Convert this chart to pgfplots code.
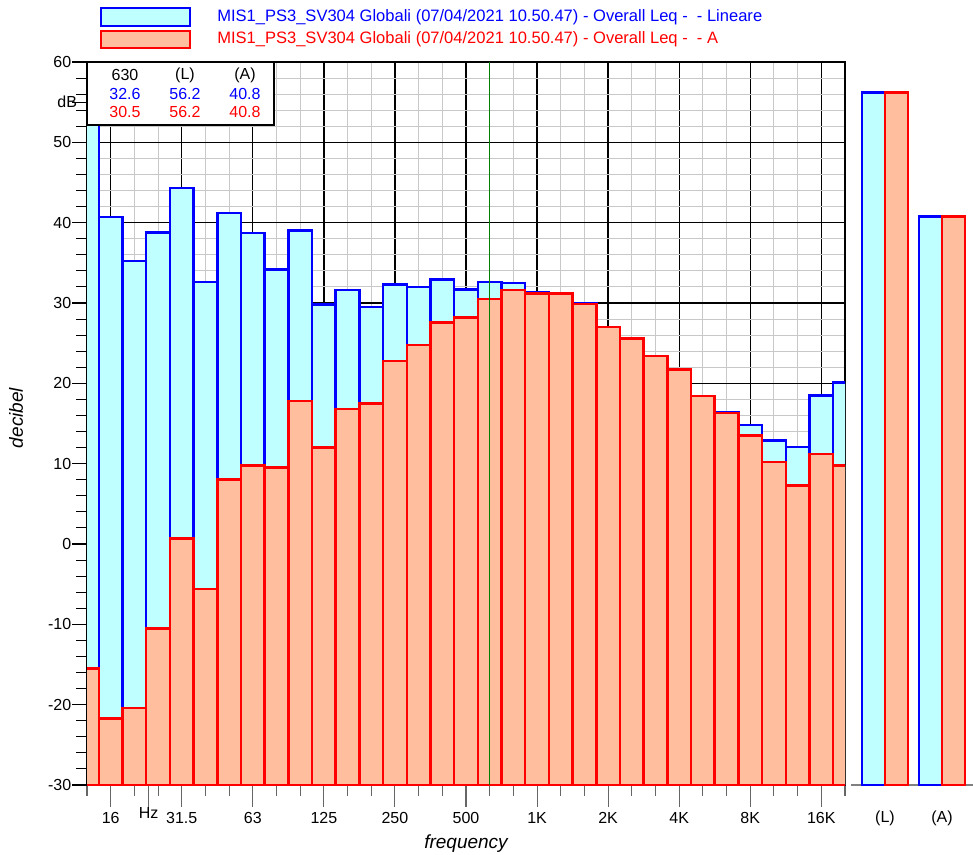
\documentclass[border=0pt]{standalone}
\usepackage{fontspec}
\setmainfont{Liberation Sans}
\usepackage{pgfplots}
\usepackage{pgfplotstable}
\pgfplotsset{compat=1.18}
\definecolor{cyanfill}{RGB}{191,255,255}
\definecolor{salmon}{RGB}{255,191,159}
\definecolor{bblue}{RGB}{0,0,255}
\definecolor{rred}{RGB}{255,0,0}
\definecolor{mgrid}{RGB}{200,200,200}

% third-octave bands: 0=12.5 Hz, 1=16 Hz, ..., 32=20 kHz
\pgfplotstableread{
idx lin aw
0  56.0 -15.5
1  40.7 -21.7
2  35.2 -20.4
3  38.8 -10.5
4  44.3 0.7
5  32.6 -5.6
6  41.2 8.0
7  38.7 9.8
8  34.2 9.5
9  39.0 17.8
10 29.8 12.0
11 31.6 16.8
12 29.5 17.5
13 32.3 22.8
14 32.0 24.8
15 32.9 27.6
16 31.7 28.2
17 32.6 30.5
18 32.5 31.6
19 31.3 31.2
20 31.2 31.2
21 30.0 29.9
22 27.0 27.0
23 25.6 25.6
24 23.4 23.4
25 21.7 21.7
26 18.4 18.4
27 16.4 16.3
28 14.8 13.5
29 12.9 10.2
30 12.1 7.3
31 18.5 11.2
32 20.1 9.8
}\spectrum

\begin{document}
\begin{tikzpicture}
\path[use as bounding box] (0pt,0pt) rectangle (729.75pt,640.5pt);
\begin{axis}[
  at={(65.25pt,51.75pt)}, anchor=south west,
  scale only axis, width=568.5pt, height=542.25pt,
  xmin=0, xmax=32, ymin=0, ymax=90,
  y filter/.expression={y+30},
  xtick={1,4,...,31},
  xticklabels={16,31.5,63,125,250,500,1K,2K,4K,8K,16K},
  minor xtick={0,...,32},
  ytick={0,10,...,90},
  yticklabels={-30,-20,-10,0,10,20,30,40,50,60},
  minor ytick={0,2,...,90},
  extra x ticks={2.6}, extra x tick labels={Hz},
  extra x tick style={grid=none, major tick length=0pt},
  extra y ticks={85}, extra y tick labels={dB},
  extra y tick style={grid=none, major tick length=0pt},
  grid=both,
  major grid style={black, line width=1pt},
  minor grid style={mgrid, line width=0.8pt},
  tick pos=left, tick align=outside,
  xtick style={/pgfplots/major tick length=16.5pt, black!60, line width=0.8pt},
  minor x tick style={/pgfplots/minor tick length=8pt, black!60, line width=0.8pt},
  ytick style={/pgfplots/major tick length=11pt, black, line width=0.8pt},
  minor y tick style={/pgfplots/minor tick length=8pt, black, line width=0.8pt},
  axis line style={black, line width=0.8pt},
  tick label style={font=\fontsize{12}{14}\selectfont},
  xticklabel style={yshift=-13pt},
  yticklabel style={xshift=-4pt},
]
\addplot[ybar, bar width=1, bar shift=0pt, draw=bblue, fill=cyanfill, line width=1.9pt]
  table[x=idx, y=lin]{\spectrum};
\addplot[ybar, bar width=1, bar shift=0pt, draw=rred, fill=salmon, line width=1.9pt]
  table[x=idx, y=aw]{\spectrum};
\addplot[sharp plot, no marks, green!50!black, line width=0.8pt] coordinates {(17,-30) (17,60)};
\end{axis}

\begin{axis}[
  at={(638.25pt,51.75pt)}, anchor=south west,
  scale only axis, width=91.5pt, height=542.25pt,
  xmin=0, xmax=122, ymin=0, ymax=90,
  y filter/.expression={y+30},
  axis y line=none, axis x line*=bottom,
  x axis line style={gray, -, line width=0.8pt},
  xtick={34,91}, xticklabels={(L),(A)},
  xtick style={draw=none},
  tick label style={font=\fontsize{12}{14}\selectfont},
  xticklabel style={yshift=-16pt},
]
\addplot[ybar, bar width=23, bar shift=0pt, draw=bblue, fill=cyanfill, line width=1.9pt]
  coordinates {(22.5,56.2) (79.5,40.8)};
\addplot[ybar, bar width=23, bar shift=0pt, draw=rred, fill=salmon, line width=1.9pt]
  coordinates {(45.5,56.2) (102.5,40.8)};
\end{axis}

\begin{scope}[x=0.75pt,y=0.75pt]
% info box
\draw[black, fill=white, line width=0.8pt] (87,792) rectangle (274,729);
\begin{scope}[every node/.style={font=\fontsize{12}{14}\selectfont}]
\node at (125,779) {630};
\node at (185,779) {(L)};
\node at (245,779) {(A)};
\node[text=bblue] at (125,760) {32.6};
\node[text=bblue] at (185,760) {56.2};
\node[text=bblue] at (245,760) {40.8};
\node[text=rred] at (125,742) {30.5};
\node[text=rred] at (185,742) {56.2};
\node[text=rred] at (245,742) {40.8};
\end{scope}

% legend
\draw[bblue, fill=cyanfill, line width=1.5pt] (101,846) rectangle (190,828);
\draw[rred, fill=salmon, line width=1.5pt] (101,823) rectangle (190,806);
\begin{scope}[every node/.style={font=\fontsize{12.4}{14}\selectfont, anchor=west, inner sep=0pt}]
\node[text=bblue] at (217,837) {MIS1\_PS3\_SV304 Globali (07/04/2021 10.50.47) - Overall Leq -\ \ - Lineare};
\node[text=rred] at (217,815) {MIS1\_PS3\_SV304 Globali (07/04/2021 10.50.47) - Overall Leq -\ \ - A};
\end{scope}

% axis titles
\node[rotate=90, font=\fontsize{14.25}{16}\selectfont\itshape] at (16,436) {decibel};
\node[font=\fontsize{14.25}{16}\selectfont\itshape] at (466,10) {frequency};
\end{scope}
\end{tikzpicture}
\end{document}
